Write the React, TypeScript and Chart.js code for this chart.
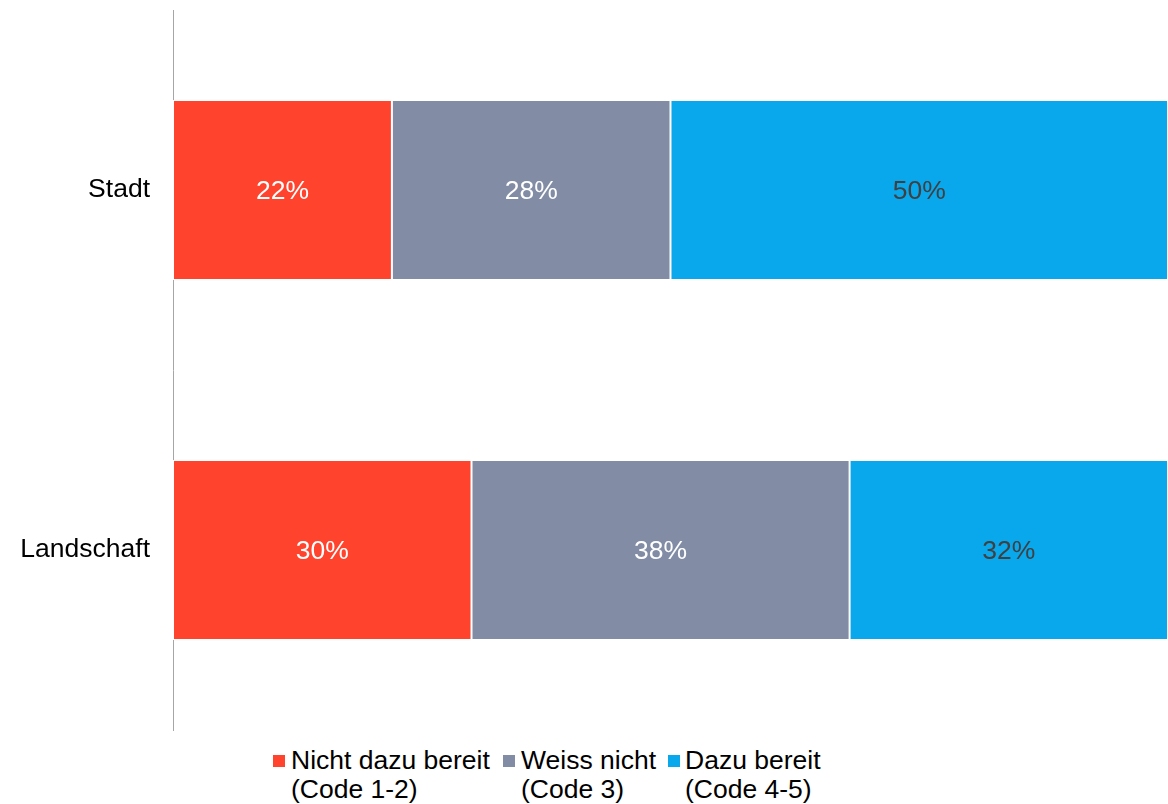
import React, { useEffect, useRef } from "react";
import { Chart, registerables } from "chart.js";

Chart.register(...registerables);

const categories = ["Stadt", "Landschaft"];
const seriesNames = [
  ["Nicht dazu bereit", "(Code 1-2)"],
  ["Weiss nicht", "(Code 3)"],
  ["Dazu bereit", "(Code 4-5)"],
];
const nichtBereit = [22, 30];
const weissNicht = [28, 38];
const dazuBereit = [50, 32];
const seriesColors = ["#FF432C", "#828DA5", "#09A7EC"];
const labelColors = ["#FFFFFF", "#FFFFFF", "#404040"];

const FONT = "'Liberation Sans', Arial, sans-serif";
const FS = 26.5;

const labelPlugin = {
  id: "barLabels",
  afterDatasetsDraw(chart: any) {
    const ctx = chart.ctx;
    ctx.save();
    ctx.font = `${FS}px ${FONT}`;
    ctx.textAlign = "center";
    ctx.textBaseline = "middle";
    chart.data.datasets.forEach((ds: any, i: number) => {
      const meta = chart.getDatasetMeta(i);
      meta.data.forEach((bar: any, j: number) => {
        const v = ds.data[j];
        const cx = (bar.x + bar.base) / 2;
        ctx.fillStyle = labelColors[i];
        ctx.fillText(`${v}%`, cx, bar.y + 2);
      });
    });
    ctx.restore();
  },
};

export default function App() {
  const ref = useRef<HTMLCanvasElement>(null);
  useEffect(() => {
    document.body.style.margin = "0";
    const data = [nichtBereit, weissNicht, dazuBereit];
    const chart = new Chart(ref.current!, {
      type: "bar",
      data: {
        labels: categories,
        datasets: data.map((d, i) => ({
          label: seriesNames[i].join(" "),
          data: d,
          backgroundColor: seriesColors[i],
          borderColor: "#FFFFFF",
          borderWidth: 1,
          borderSkipped: false,
          categoryPercentage: 0.5,
          barPercentage: 1,
        })),
      },
      options: {
        indexAxis: "y",
        animation: false,
        responsive: false,
        maintainAspectRatio: false,
        layout: { padding: { top: 10, bottom: 10, left: 0, right: 0 } },
        plugins: {
          legend: { display: false },
          tooltip: { enabled: false },
        },
        scales: {
          x: {
            stacked: true,
            min: 0,
            max: 100,
            display: false,
          },
          y: {
            stacked: true,
            afterFit: (s: any) => {
              s.width = 173;
              s.paddingTop = 0;
              s.paddingBottom = 0;
            },
            grid: { display: false, drawTicks: false },
            border: { display: true, color: "#A6A6A6", width: 1 },
            ticks: {
              padding: 23,
              color: "#000000",
              font: { family: FONT, size: FS },
            },
          },
        },
      },
      plugins: [labelPlugin],
    });
    return () => chart.destroy();
  }, []);

  const boxLefts = [273, 503, 668];
  const textLefts = [291, 521, 685];

  return (
    <div style={{ position: "relative", width: 1168, height: 804, background: "#fff", overflow: "hidden" }}>
      <canvas ref={ref} width={1168} height={740} style={{ position: "absolute", left: 0, top: 0, width: 1168, height: 740 }} />
      {seriesNames.map((lines, i) => (
        <React.Fragment key={i}>
          <div
            style={{
              position: "absolute",
              left: boxLefts[i],
              top: 755,
              width: 12,
              height: 12,
              background: seriesColors[i],
            }}
          />
          <div
            style={{
              position: "absolute",
              left: textLefts[i],
              top: 746,
              fontFamily: FONT,
              fontSize: FS,
              lineHeight: "29px",
              color: "#000",
              whiteSpace: "nowrap",
            }}
          >
            {lines.map((l, k) => (
              <div key={k}>{l}</div>
            ))}
          </div>
        </React.Fragment>
      ))}
    </div>
  );
}
